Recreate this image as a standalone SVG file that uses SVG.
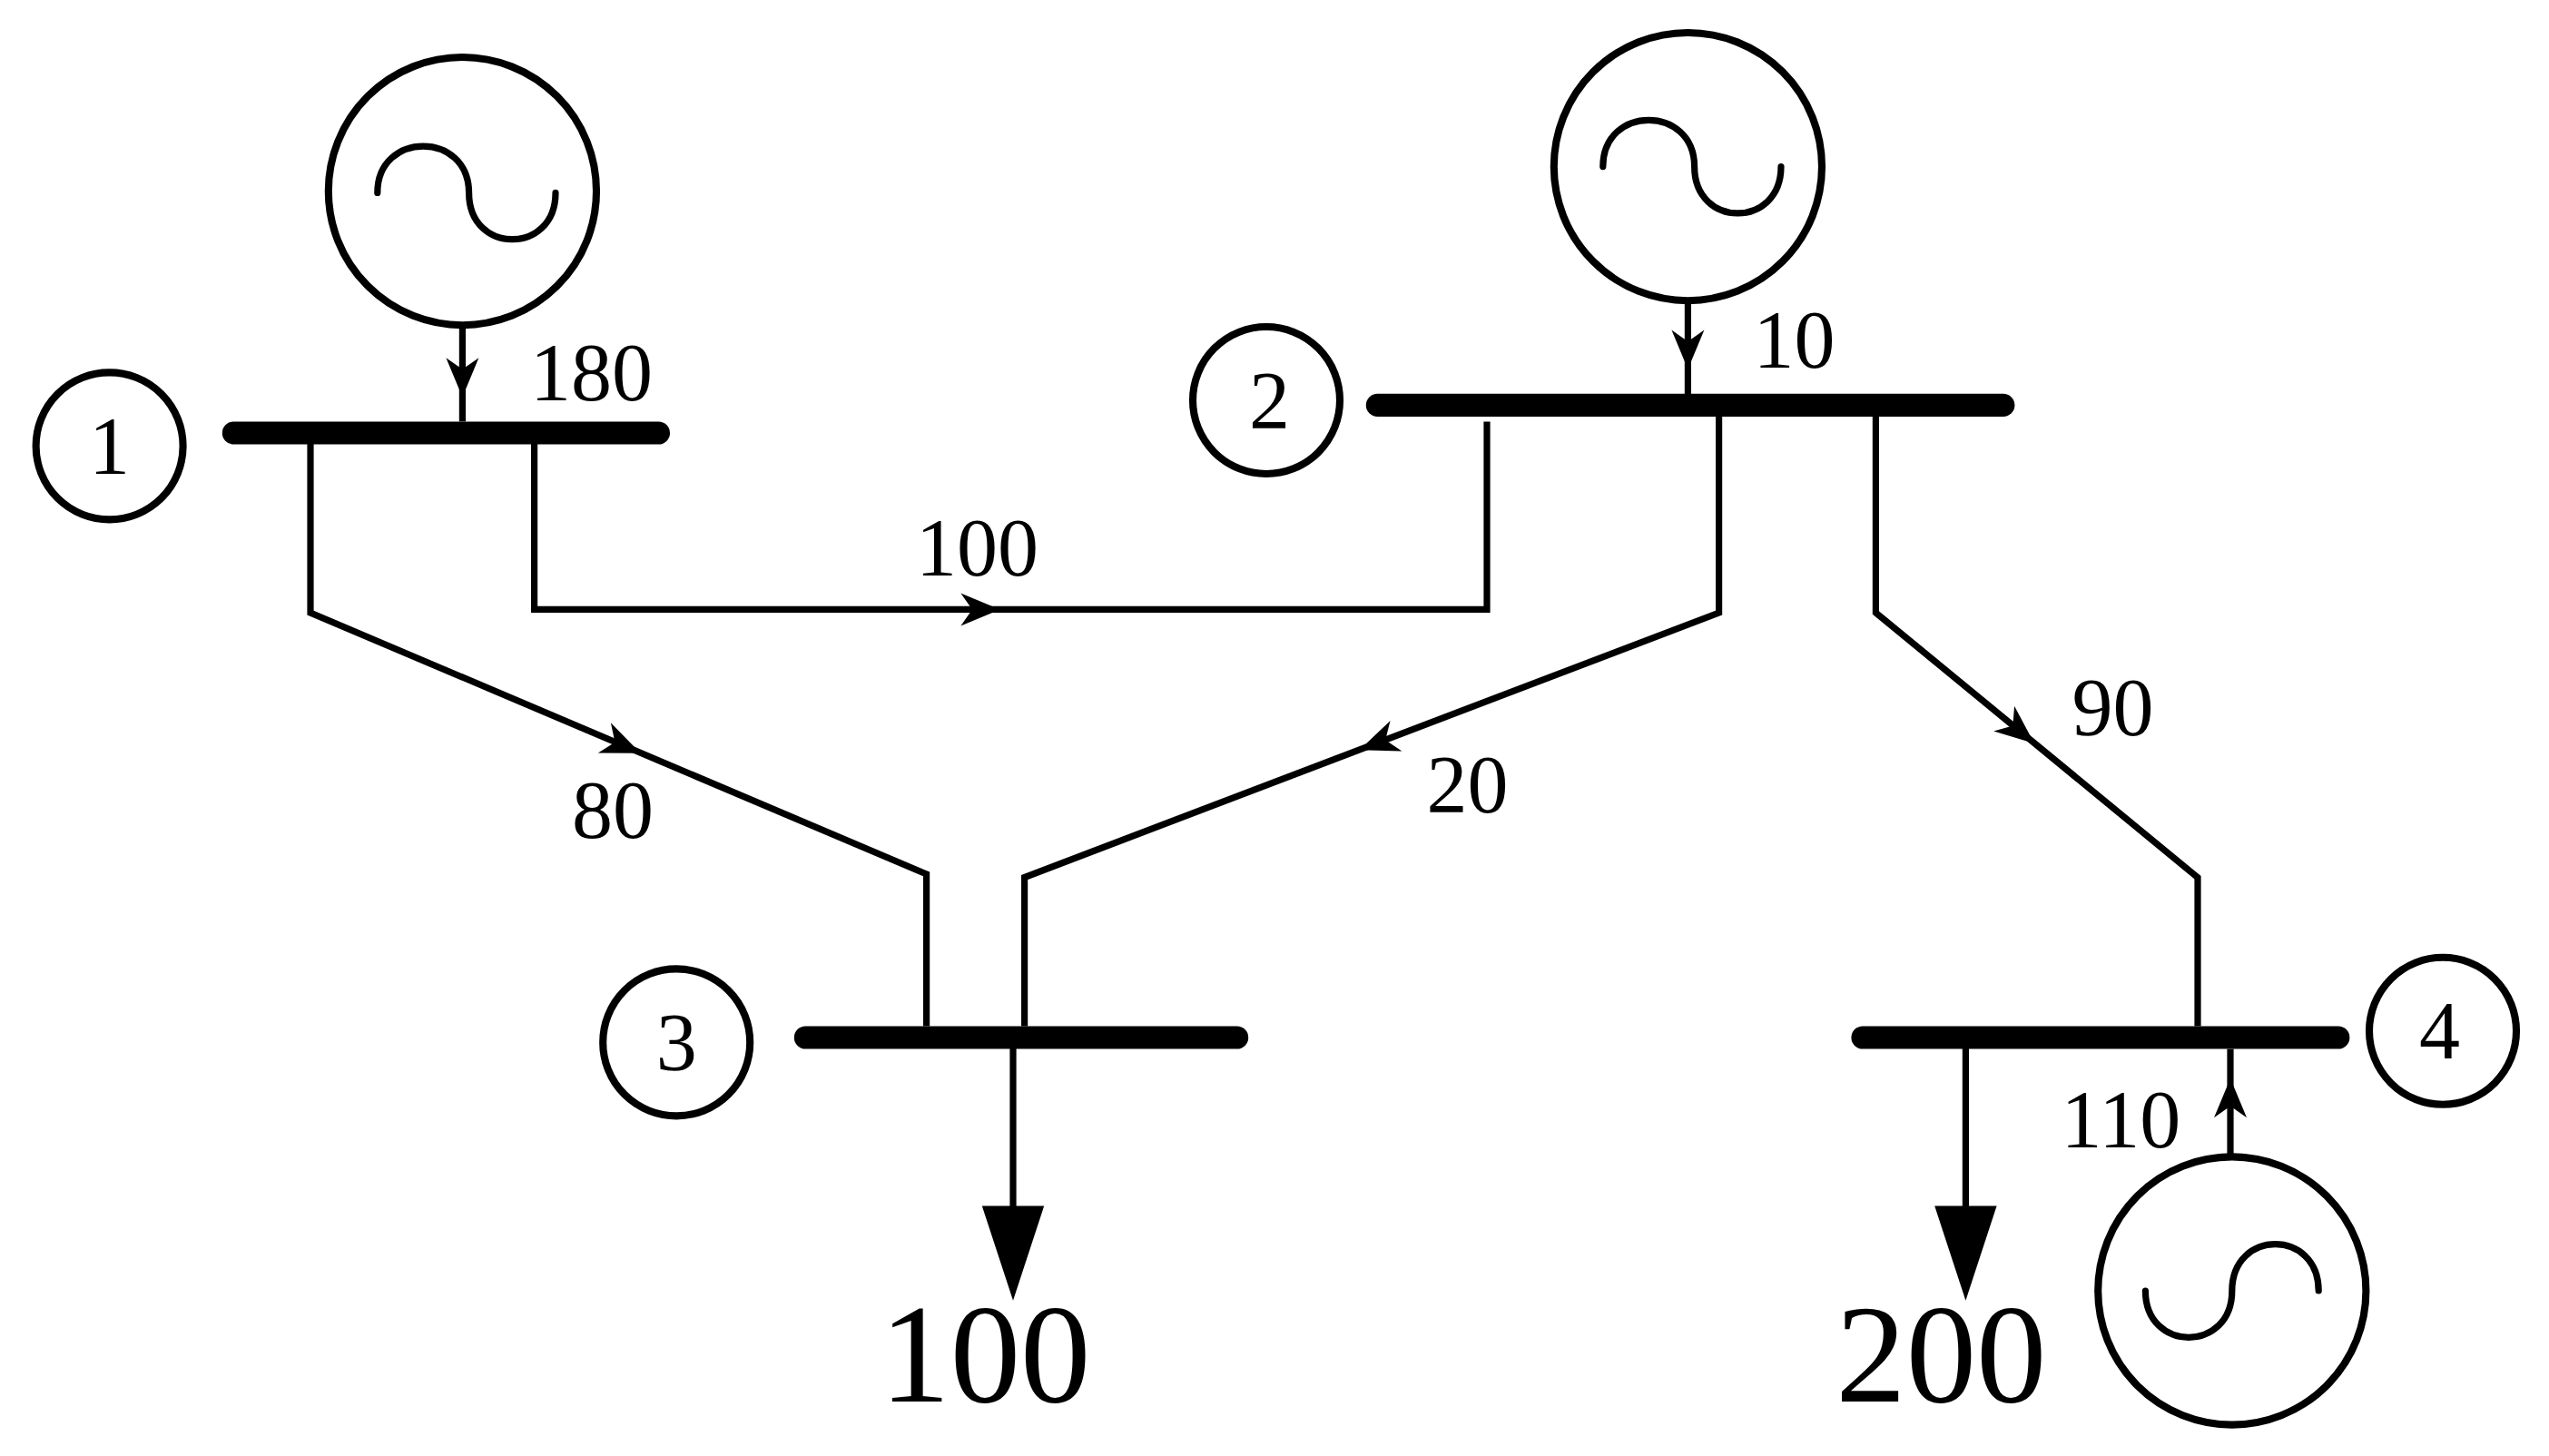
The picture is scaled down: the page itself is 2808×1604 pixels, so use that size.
<svg xmlns="http://www.w3.org/2000/svg" width="2808" height="1604" viewBox="0 0 2808 1604">
<style>
.ln{fill:none;stroke:#000;stroke-width:4;stroke-linejoin:miter}
.bus{stroke:#000;stroke-width:14;stroke-linecap:round}
.c{fill:#fff;stroke:#000;stroke-width:4.5}
.t{font-family:"Liberation Serif","Times New Roman",serif;font-size:50px;fill:#000;text-anchor:middle}
.big{font-size:86px}
</style>
<defs>
<path id="ah" d="M0,0 L-24,-10 L-17,0 L-24,10 Z" fill="#000"/>
<path id="lh" d="M0,0 L-19,-58 L19,-58 Z" fill="#000"/>
</defs>
<rect width="2808" height="1604" fill="#fff"/>
<g transform="scale(1.8)">
<g id="connectors">
<path class="ln" d="M190,265 V375 L567,535 V628"/>
<path class="ln" d="M327,265 V373 H910 V258"/>
<path class="ln" d="M1052,248 V375 L627,537 V628"/>
<path class="ln" d="M1148,248 V375 L1345,537 V628"/>
<path class="ln" d="M283,200 V258"/>
<path class="ln" d="M1033,185 V242"/>
<path class="ln" d="M1365,708 V642"/>
<path class="ln" d="M620,635 V745"/>
<path class="ln" d="M1203,635 V745"/>
<use href="#ah" transform="translate(392,461) rotate(23)"/>
<use href="#ah" transform="translate(612,373)"/>
<use href="#ah" transform="translate(832,459) rotate(159.1)"/>
<use href="#ah" transform="translate(1245,455) rotate(39.4)"/>
<use href="#ah" transform="translate(283,243) rotate(90)"/>
<use href="#ah" transform="translate(1033,226) rotate(90)"/>
<use href="#ah" transform="translate(1365,660) rotate(-90)"/>
<use href="#lh" transform="translate(620,796)"/>
<use href="#lh" transform="translate(1203,796)"/>
<text class="t" x="362" y="245">180</text>
<text class="t" x="598" y="352">100</text>
<text class="t" x="375" y="513">80</text>
<text class="t" x="1098" y="225">10</text>
<text class="t" x="898" y="497">20</text>
<text class="t" x="1293" y="450">90</text>
<text class="t" x="1298" y="702">110</text>
<text class="t big" x="603" y="858">100</text>
<text class="t big" x="1188" y="858">200</text>
</g>
<g id="bus1"><line class="bus" x1="143" y1="265" x2="403" y2="265"/><circle class="c" cx="67" cy="273" r="45"/><text class="t" x="67" y="290">1</text></g>
<g id="bus2"><line class="bus" x1="843" y1="248" x2="1226" y2="248"/><circle class="c" cx="775" cy="245" r="45"/><text class="t" x="777" y="262">2</text></g>
<g id="bus3"><line class="bus" x1="493" y1="635" x2="757" y2="635"/><circle class="c" cx="414" cy="638" r="45"/><text class="t" x="414" y="655">3</text></g>
<g id="bus4"><line class="bus" x1="1140" y1="635" x2="1431" y2="635"/><circle class="c" cx="1495" cy="631" r="45"/><text class="t" x="1493" y="648">4</text></g>
<g id="gen1"><circle class="c" cx="283" cy="117" r="82"/><path class="ln" stroke-linecap="round" d="M231,118 C231,80 287,80 287,118 C287,156 340,156 340,118"/></g>
<g id="gen2"><circle class="c" cx="1033" cy="102" r="82"/><path class="ln" stroke-linecap="round" d="M981,102 C981,64 1037,64 1037,102 C1037,140 1090,140 1090,102"/></g>
<g id="gen4"><circle class="c" cx="1366" cy="790" r="82"/><path class="ln" stroke-linecap="round" d="M1313,790 C1313,828 1366,828 1366,790 C1366,752 1419,752 1419,790"/></g>
</g>
</svg>
